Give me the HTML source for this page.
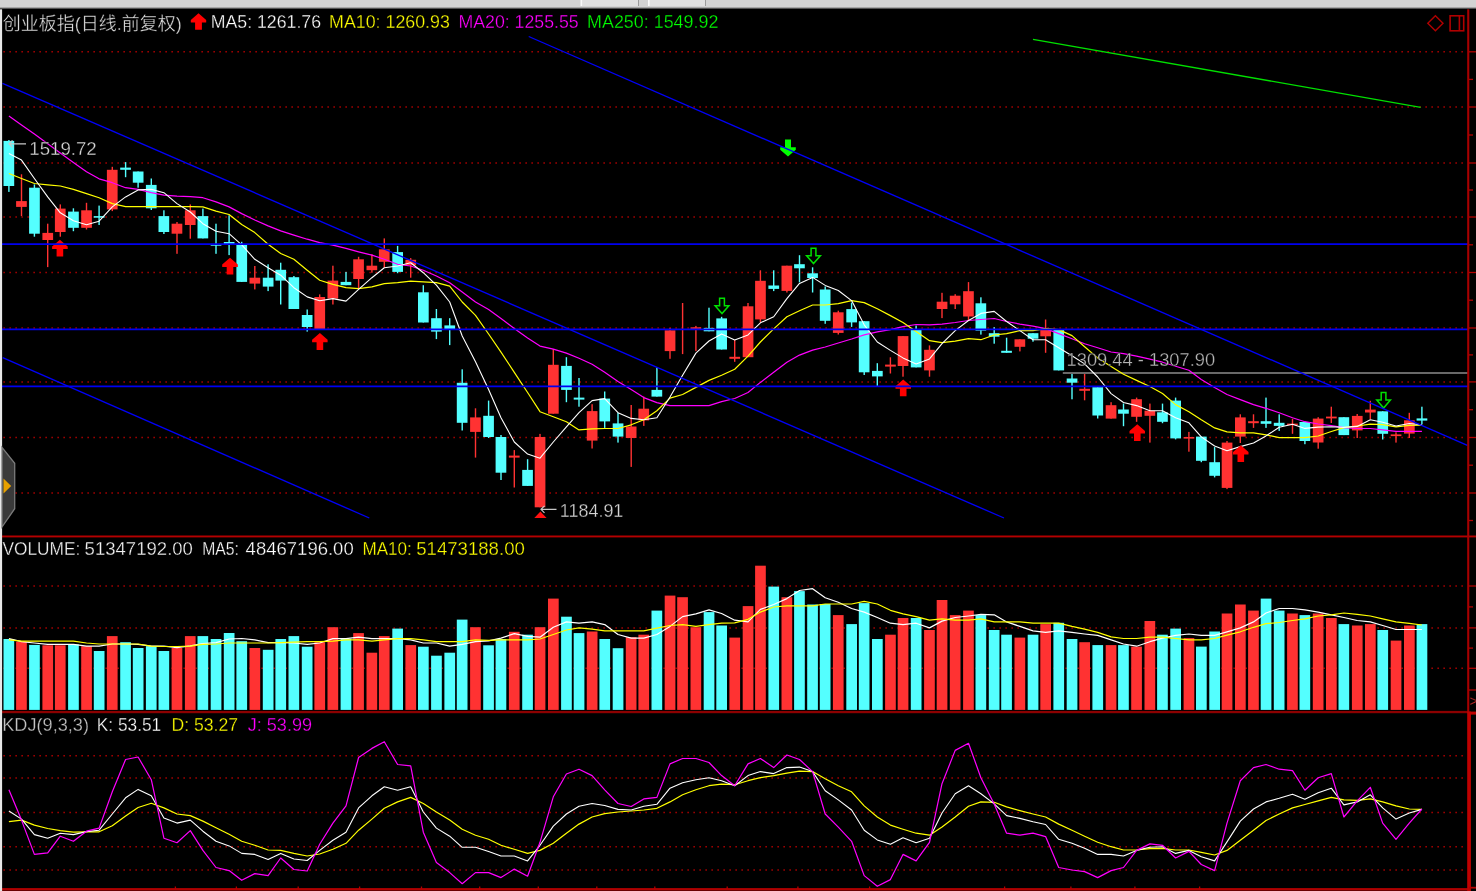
<!DOCTYPE html>
<html><head><meta charset="utf-8"><title>创业板指</title>
<style>html,body{margin:0;padding:0;background:#000;overflow:hidden}svg{display:block}</style></head>
<body>
<svg width="1476" height="891" viewBox="0 0 1476 891">
<rect width="1476" height="891" fill="#000"/>
<g stroke="#ac0000" stroke-width="1.5" stroke-dasharray="1.5 4.5" fill="none">
<path d="M3.4 51.8 H1464"/>
<path d="M3.4 107 H1464"/>
<path d="M3.4 163 H1464"/>
<path d="M3.4 217 H1464"/>
<path d="M3.4 272.5 H1464"/>
<path d="M3.4 328 H1464"/>
<path d="M3.4 381.9 H1464"/>
<path d="M3.4 437.5 H1464"/>
<path d="M3.4 493 H1464"/>
<path d="M3.4 586 H1464"/>
<path d="M3.4 627.9 H1464"/>
<path d="M3.4 668.3 H1464"/>
<path d="M3.4 755.8 H1464"/>
<path d="M3.4 778.1 H1464"/>
<path d="M3.4 812.6 H1464"/>
<path d="M3.4 846.8 H1464"/>
<path d="M3.4 870 H1464"/>
</g>
<g>
<rect x="3.5" y="639" width="10.7" height="70.9" fill="#54ffff"/>
<rect x="16.1" y="641.7" width="10.7" height="68.2" fill="#ff3232"/>
<rect x="29.1" y="644.9" width="10.7" height="65" fill="#54ffff"/>
<rect x="42.4" y="645.3" width="10.7" height="64.6" fill="#ff3232"/>
<rect x="54.9" y="645.3" width="10.7" height="64.6" fill="#ff3232"/>
<rect x="68.1" y="644.4" width="10.7" height="65.5" fill="#54ffff"/>
<rect x="81.2" y="646.2" width="10.7" height="63.7" fill="#ff3232"/>
<rect x="93.8" y="651" width="10.7" height="58.9" fill="#54ffff"/>
<rect x="106.9" y="636.1" width="10.7" height="73.8" fill="#ff3232"/>
<rect x="120.2" y="642.2" width="10.7" height="67.7" fill="#54ffff"/>
<rect x="132.8" y="648" width="10.7" height="61.9" fill="#54ffff"/>
<rect x="145.9" y="646.2" width="10.7" height="63.7" fill="#54ffff"/>
<rect x="158.5" y="651" width="10.7" height="58.9" fill="#54ffff"/>
<rect x="171.6" y="648" width="10.7" height="61.9" fill="#ff3232"/>
<rect x="184.9" y="636.1" width="10.7" height="73.8" fill="#ff3232"/>
<rect x="197.5" y="636.1" width="10.7" height="73.8" fill="#54ffff"/>
<rect x="210.7" y="639" width="10.7" height="70.9" fill="#54ffff"/>
<rect x="223.8" y="633" width="10.7" height="76.9" fill="#54ffff"/>
<rect x="236.4" y="641.2" width="10.7" height="68.7" fill="#54ffff"/>
<rect x="249.5" y="648" width="10.7" height="61.9" fill="#ff3232"/>
<rect x="262.8" y="649.8" width="10.7" height="60.1" fill="#54ffff"/>
<rect x="275.4" y="639" width="10.7" height="70.9" fill="#54ffff"/>
<rect x="288.5" y="636.1" width="10.7" height="73.8" fill="#54ffff"/>
<rect x="301.8" y="646.7" width="10.7" height="63.2" fill="#54ffff"/>
<rect x="314.4" y="642.2" width="10.7" height="67.7" fill="#ff3232"/>
<rect x="327.5" y="627.2" width="10.7" height="82.7" fill="#ff3232"/>
<rect x="340.6" y="639" width="10.7" height="70.9" fill="#54ffff"/>
<rect x="353.2" y="633.1" width="10.7" height="76.8" fill="#ff3232"/>
<rect x="366.5" y="652.7" width="10.7" height="57.2" fill="#ff3232"/>
<rect x="378.9" y="636.1" width="10.7" height="73.8" fill="#ff3232"/>
<rect x="392.3" y="628.6" width="10.7" height="81.3" fill="#54ffff"/>
<rect x="405.4" y="645.1" width="10.7" height="64.8" fill="#ff3232"/>
<rect x="418" y="646.7" width="10.7" height="63.2" fill="#54ffff"/>
<rect x="431.1" y="655.7" width="10.7" height="54.2" fill="#54ffff"/>
<rect x="444.4" y="652.7" width="10.7" height="57.2" fill="#54ffff"/>
<rect x="456.8" y="619.6" width="10.7" height="90.3" fill="#54ffff"/>
<rect x="470.1" y="627.2" width="10.7" height="82.7" fill="#ff3232"/>
<rect x="483.2" y="645.3" width="10.7" height="64.6" fill="#54ffff"/>
<rect x="495.6" y="639" width="10.7" height="70.9" fill="#54ffff"/>
<rect x="508.9" y="631.8" width="10.7" height="78.1" fill="#ff3232"/>
<rect x="522.2" y="634.7" width="10.7" height="75.2" fill="#54ffff"/>
<rect x="534.7" y="627.2" width="10.7" height="82.7" fill="#ff3232"/>
<rect x="548" y="598.6" width="10.7" height="111.3" fill="#ff3232"/>
<rect x="561.1" y="616.7" width="10.7" height="93.2" fill="#54ffff"/>
<rect x="573.7" y="633.1" width="10.7" height="76.8" fill="#54ffff"/>
<rect x="586.8" y="631.5" width="10.7" height="78.4" fill="#ff3232"/>
<rect x="599.4" y="639" width="10.7" height="70.9" fill="#54ffff"/>
<rect x="612.7" y="648.2" width="10.7" height="61.7" fill="#54ffff"/>
<rect x="625.8" y="637.2" width="10.7" height="72.7" fill="#ff3232"/>
<rect x="638.4" y="634.7" width="10.7" height="75.2" fill="#ff3232"/>
<rect x="651.5" y="610.6" width="10.7" height="99.3" fill="#54ffff"/>
<rect x="664.7" y="595.6" width="10.7" height="114.3" fill="#ff3232"/>
<rect x="677.2" y="597.2" width="10.7" height="112.7" fill="#ff3232"/>
<rect x="690.5" y="627.2" width="10.7" height="82.7" fill="#ff3232"/>
<rect x="703.7" y="612.1" width="10.7" height="97.8" fill="#54ffff"/>
<rect x="716.3" y="625.5" width="10.7" height="84.4" fill="#54ffff"/>
<rect x="729.4" y="637.6" width="10.7" height="72.3" fill="#ff3232"/>
<rect x="742.7" y="606.1" width="10.7" height="103.8" fill="#ff3232"/>
<rect x="755.1" y="565.7" width="10.7" height="144.2" fill="#ff3232"/>
<rect x="768.4" y="586.6" width="10.7" height="123.3" fill="#54ffff"/>
<rect x="781.5" y="597.2" width="10.7" height="112.7" fill="#ff3232"/>
<rect x="794.1" y="591.1" width="10.7" height="118.8" fill="#54ffff"/>
<rect x="807.2" y="604.5" width="10.7" height="105.4" fill="#54ffff"/>
<rect x="819.8" y="604" width="10.7" height="105.9" fill="#54ffff"/>
<rect x="832.9" y="615.1" width="10.7" height="94.8" fill="#ff3232"/>
<rect x="846.3" y="624.1" width="10.7" height="85.8" fill="#54ffff"/>
<rect x="858.8" y="603.1" width="10.7" height="106.8" fill="#54ffff"/>
<rect x="872" y="639" width="10.7" height="70.9" fill="#54ffff"/>
<rect x="885.1" y="634.7" width="10.7" height="75.2" fill="#ff3232"/>
<rect x="897.7" y="618" width="10.7" height="91.9" fill="#ff3232"/>
<rect x="910.8" y="618" width="10.7" height="91.9" fill="#54ffff"/>
<rect x="924.1" y="630" width="10.7" height="79.9" fill="#ff3232"/>
<rect x="936.7" y="600" width="10.7" height="109.9" fill="#ff3232"/>
<rect x="949.8" y="615.1" width="10.7" height="94.8" fill="#ff3232"/>
<rect x="963.1" y="610.6" width="10.7" height="99.3" fill="#ff3232"/>
<rect x="975.5" y="615.1" width="10.7" height="94.8" fill="#54ffff"/>
<rect x="988.8" y="630" width="10.7" height="79.9" fill="#54ffff"/>
<rect x="1001.2" y="634.7" width="10.7" height="75.2" fill="#54ffff"/>
<rect x="1014.5" y="637.6" width="10.7" height="72.3" fill="#ff3232"/>
<rect x="1027.7" y="634.7" width="10.7" height="75.2" fill="#54ffff"/>
<rect x="1040.3" y="624.1" width="10.7" height="85.8" fill="#ff3232"/>
<rect x="1053.4" y="622.8" width="10.7" height="87.1" fill="#54ffff"/>
<rect x="1066.7" y="639" width="10.7" height="70.9" fill="#54ffff"/>
<rect x="1079.3" y="642.2" width="10.7" height="67.7" fill="#ff3232"/>
<rect x="1092.4" y="645.1" width="10.7" height="64.8" fill="#54ffff"/>
<rect x="1105.7" y="645.1" width="10.7" height="64.8" fill="#ff3232"/>
<rect x="1118.1" y="645.1" width="10.7" height="64.8" fill="#54ffff"/>
<rect x="1131.2" y="646.6" width="10.7" height="63.3" fill="#ff3232"/>
<rect x="1144.5" y="621" width="10.7" height="88.9" fill="#ff3232"/>
<rect x="1157.1" y="634.7" width="10.7" height="75.2" fill="#54ffff"/>
<rect x="1170.3" y="628.6" width="10.7" height="81.3" fill="#54ffff"/>
<rect x="1183.6" y="638.1" width="10.7" height="71.8" fill="#ff3232"/>
<rect x="1196" y="646.6" width="10.7" height="63.3" fill="#54ffff"/>
<rect x="1209.3" y="631.5" width="10.7" height="78.4" fill="#54ffff"/>
<rect x="1221.7" y="613.5" width="10.7" height="96.4" fill="#ff3232"/>
<rect x="1235" y="604.5" width="10.7" height="105.4" fill="#ff3232"/>
<rect x="1248.1" y="610.6" width="10.7" height="99.3" fill="#ff3232"/>
<rect x="1260.7" y="598.6" width="10.7" height="111.3" fill="#54ffff"/>
<rect x="1273.8" y="610.6" width="10.7" height="99.3" fill="#54ffff"/>
<rect x="1287.1" y="613.5" width="10.7" height="96.4" fill="#ff3232"/>
<rect x="1299.5" y="615.1" width="10.7" height="94.8" fill="#54ffff"/>
<rect x="1312.8" y="613.5" width="10.7" height="96.4" fill="#ff3232"/>
<rect x="1326" y="618" width="10.7" height="91.9" fill="#ff3232"/>
<rect x="1338.5" y="624.1" width="10.7" height="85.8" fill="#54ffff"/>
<rect x="1351.9" y="625.5" width="10.7" height="84.4" fill="#ff3232"/>
<rect x="1365" y="624.1" width="10.7" height="85.8" fill="#ff3232"/>
<rect x="1377.4" y="630" width="10.7" height="79.9" fill="#54ffff"/>
<rect x="1390.7" y="640.6" width="10.7" height="69.3" fill="#ff3232"/>
<rect x="1404" y="625.5" width="10.7" height="84.4" fill="#ff3232"/>
<rect x="1416.6" y="624.1" width="10.7" height="85.8" fill="#54ffff"/>
</g>
<polyline points="8.9,638.6 21.5,641.7 34.4,643 47.7,644.4 60.3,644.4 73.4,644.4 86.5,646.2 99.1,646.2 112.3,644 125.6,644 138.1,644.4 151.3,646.2 163.9,646.2 177,647.6 190.3,645.8 202.9,643.5 216,642.6 229.1,639 241.7,638.5 254.8,639.9 268.1,642.6 280.7,642.6 293.9,643 307.2,644.4 319.7,643 332.9,638.6 346,638.6 358.6,637.2 371.9,638.6 384.3,638.6 397.6,638.6 410.7,639.9 423.3,643 436.4,643 449.7,646.2 462.2,644.4 475.5,641.7 488.6,640.8 501,638.1 514.3,633.6 527.6,636.3 540,637.2 553.3,627.3 566.4,621.9 579,623.2 592.1,621.9 604.7,624.6 618,634.5 631.2,638.1 643.8,638.1 656.9,634.5 670,626.4 682.6,616.6 695.9,613.9 709,609.9 721.6,613.5 734.7,620.2 748,621.9 760.4,609.4 773.7,604.5 786.9,598.6 799.5,590.5 812.6,588.7 825.2,597.7 838.3,602.2 851.6,608.5 864.2,612.1 877.3,617.5 890.4,623.2 903,624.6 916.1,623.2 929.5,627.9 942,621.1 955.2,617.5 968.5,616 980.9,614.4 994.2,614.8 1006.6,621.9 1019.9,626.4 1033,630.9 1045.6,632.4 1058.7,630.9 1072,632.4 1084.6,634 1097.7,635.4 1111.1,639.9 1123.5,644 1136.6,646.2 1149.9,641.7 1162.5,638.1 1175.6,635.4 1188.9,634 1201.3,635.4 1214.6,635.4 1227,631.8 1240.3,627.9 1253.5,621.9 1266,613 1279.2,608.5 1292.5,608.5 1304.9,609.9 1318.2,612.1 1331.3,614.8 1343.9,617.5 1357.2,620.5 1370.3,621.9 1382.7,625.5 1396,629.5 1409.3,629.5 1421.9,629.5" fill="none" stroke="#fff" stroke-width="1.2" stroke-linejoin="round"/>
<polyline points="8.9,639.9 21.5,641.2 34.4,641.2 47.7,641.2 60.3,641.2 73.4,641.2 86.5,643 99.1,644 112.3,644 125.6,644 138.1,644 151.3,646.2 163.9,646.5 177,646.5 190.3,646.2 202.9,644.4 216,644 229.1,643 241.7,643 254.8,643 268.1,643 280.7,642.6 293.9,642.2 307.2,641.7 319.7,641.7 332.9,641.2 346,639.9 358.6,639.9 371.9,641.2 384.3,639.9 397.6,638.6 410.7,638.6 423.3,639.9 436.4,641.7 449.7,641.7 462.2,641.7 475.5,639.9 488.6,640.4 501,639.9 514.3,639.9 527.6,639.9 540,639 553.3,634.5 566.4,630 579,627.9 592.1,629.1 604.7,630.9 618,630.9 631.2,630.9 643.8,630.9 656.9,628.2 670,625.5 682.6,624.6 695.9,626.4 709,624.6 721.6,623.2 734.7,622.8 748,619.3 760.4,612.1 773.7,607 786.9,605.8 799.5,605.8 812.6,605.8 825.2,604 838.3,604 851.6,604 864.2,601.3 877.3,604 890.4,610.3 903,613.9 916.1,616.6 929.5,620.2 942,618.9 955.2,620.2 968.5,620.2 980.9,618.9 994.2,621.9 1006.6,621.9 1019.9,621.9 1033,623.2 1045.6,623.2 1058.7,623.2 1072,626.4 1084.6,629.1 1097.7,632.4 1111.1,636.9 1123.5,638.5 1136.6,638.5 1149.9,637.2 1162.5,637.2 1175.6,638.5 1188.9,639.9 1201.3,639.9 1214.6,638.5 1227,635.1 1240.3,631.8 1253.5,627.3 1266,623.7 1279.2,622.5 1292.5,620.5 1304.9,618.9 1318.2,616 1331.3,614.8 1343.9,613 1357.2,614.4 1370.3,616 1382.7,618.9 1396,621.9 1409.3,623.4 1421.9,625" fill="none" stroke="#ff0" stroke-width="1.2" stroke-linejoin="round"/>
<path d="M1033 39.3 L1420.7 107.3" stroke="#00e000" stroke-width="1.3" fill="none"/>
<path d="M1062.8 373 H1468" stroke="#8c8c8c" stroke-width="1.4"/>
<g>
<rect x="8.2" y="140" width="1.4" height="51.9" fill="#54ffff"/>
<rect x="3.5" y="140.9" width="10.7" height="45.1" fill="#54ffff"/>
<rect x="20.8" y="174.3" width="1.4" height="41.8" fill="#ff3232"/>
<rect x="16.1" y="201.1" width="10.7" height="5.8" fill="#ff3232"/>
<rect x="33.7" y="184.4" width="1.4" height="52.3" fill="#54ffff"/>
<rect x="29.1" y="187.7" width="10.7" height="46" fill="#54ffff"/>
<rect x="47" y="223.7" width="1.4" height="43.4" fill="#ff3232"/>
<rect x="42.4" y="232.9" width="10.7" height="7.1" fill="#ff3232"/>
<rect x="59.6" y="204.4" width="1.4" height="32.3" fill="#ff3232"/>
<rect x="54.9" y="208.6" width="10.7" height="23.4" fill="#ff3232"/>
<rect x="72.7" y="208.3" width="1.4" height="22.9" fill="#54ffff"/>
<rect x="68.1" y="211.6" width="10.7" height="16.2" fill="#54ffff"/>
<rect x="85.8" y="202.8" width="1.4" height="26.7" fill="#ff3232"/>
<rect x="81.2" y="210.3" width="10.7" height="17.5" fill="#ff3232"/>
<rect x="98.4" y="205.6" width="1.4" height="19.4" fill="#54ffff"/>
<rect x="93.8" y="216.1" width="10.7" height="1.6" fill="#54ffff"/>
<rect x="111.6" y="166.8" width="1.4" height="44.3" fill="#ff3232"/>
<rect x="106.9" y="169.8" width="10.7" height="39.6" fill="#ff3232"/>
<rect x="124.9" y="162.1" width="1.4" height="15.1" fill="#54ffff"/>
<rect x="120.2" y="167.6" width="10.7" height="2.2" fill="#54ffff"/>
<rect x="137.4" y="171.5" width="1.4" height="16.2" fill="#54ffff"/>
<rect x="132.8" y="171.5" width="10.7" height="11.2" fill="#54ffff"/>
<rect x="150.6" y="178.5" width="1.4" height="31.5" fill="#54ffff"/>
<rect x="145.9" y="184.9" width="10.7" height="23.4" fill="#54ffff"/>
<rect x="163.2" y="210.3" width="1.4" height="23.7" fill="#54ffff"/>
<rect x="158.5" y="216.1" width="10.7" height="15.9" fill="#54ffff"/>
<rect x="176.3" y="222" width="1.4" height="31.8" fill="#ff3232"/>
<rect x="171.6" y="223.7" width="10.7" height="10" fill="#ff3232"/>
<rect x="189.6" y="204.4" width="1.4" height="34.3" fill="#ff3232"/>
<rect x="184.9" y="210.3" width="10.7" height="14.7" fill="#ff3232"/>
<rect x="202.2" y="208.6" width="1.4" height="29.8" fill="#54ffff"/>
<rect x="197.5" y="216.1" width="10.7" height="22.3" fill="#54ffff"/>
<rect x="215.3" y="223.7" width="1.4" height="30.1" fill="#54ffff"/>
<rect x="210.7" y="244.1" width="10.7" height="1.6" fill="#54ffff"/>
<rect x="228.4" y="215.3" width="1.4" height="39.8" fill="#54ffff"/>
<rect x="223.8" y="242" width="10.7" height="2" fill="#54ffff"/>
<rect x="241" y="241.8" width="1.4" height="40.1" fill="#54ffff"/>
<rect x="236.4" y="244.3" width="10.7" height="37.6" fill="#54ffff"/>
<rect x="254.1" y="266" width="1.4" height="23.4" fill="#ff3232"/>
<rect x="249.5" y="277.7" width="10.7" height="5.9" fill="#ff3232"/>
<rect x="267.4" y="264.3" width="1.4" height="26.8" fill="#54ffff"/>
<rect x="262.8" y="277.7" width="10.7" height="8.9" fill="#54ffff"/>
<rect x="280" y="262.7" width="1.4" height="41.8" fill="#54ffff"/>
<rect x="275.4" y="269.8" width="10.7" height="10.8" fill="#54ffff"/>
<rect x="293.2" y="276" width="1.4" height="33" fill="#54ffff"/>
<rect x="288.5" y="277.2" width="10.7" height="31.8" fill="#54ffff"/>
<rect x="306.5" y="309.5" width="1.4" height="22.1" fill="#54ffff"/>
<rect x="301.8" y="315" width="10.7" height="12" fill="#54ffff"/>
<rect x="319" y="294.4" width="1.4" height="34.6" fill="#ff3232"/>
<rect x="314.4" y="297" width="10.7" height="32" fill="#ff3232"/>
<rect x="332.2" y="265.7" width="1.4" height="38.8" fill="#ff3232"/>
<rect x="327.5" y="280.6" width="10.7" height="18" fill="#ff3232"/>
<rect x="345.3" y="271.9" width="1.4" height="13.3" fill="#54ffff"/>
<rect x="340.6" y="281.9" width="10.7" height="3.3" fill="#54ffff"/>
<rect x="357.9" y="256.8" width="1.4" height="31.8" fill="#ff3232"/>
<rect x="353.2" y="259.3" width="10.7" height="19.7" fill="#ff3232"/>
<rect x="371.2" y="254.3" width="1.4" height="18.4" fill="#ff3232"/>
<rect x="366.5" y="265.7" width="10.7" height="4.5" fill="#ff3232"/>
<rect x="383.6" y="238.4" width="1.4" height="29.3" fill="#ff3232"/>
<rect x="378.9" y="249.3" width="10.7" height="12.5" fill="#ff3232"/>
<rect x="396.9" y="245.9" width="1.4" height="27.3" fill="#54ffff"/>
<rect x="392.3" y="252.1" width="10.7" height="19.8" fill="#54ffff"/>
<rect x="410" y="258.1" width="1.4" height="19.6" fill="#ff3232"/>
<rect x="405.4" y="259.8" width="10.7" height="5.4" fill="#ff3232"/>
<rect x="422.6" y="285.2" width="1.4" height="37.3" fill="#54ffff"/>
<rect x="418" y="292.3" width="10.7" height="30.2" fill="#54ffff"/>
<rect x="435.7" y="309" width="1.4" height="30.1" fill="#54ffff"/>
<rect x="431.1" y="318.2" width="10.7" height="13.4" fill="#54ffff"/>
<rect x="449" y="318.2" width="1.4" height="26.9" fill="#54ffff"/>
<rect x="444.4" y="325.4" width="10.7" height="4.1" fill="#54ffff"/>
<rect x="461.5" y="369.3" width="1.4" height="61.2" fill="#54ffff"/>
<rect x="456.8" y="382.8" width="10.7" height="40" fill="#54ffff"/>
<rect x="474.8" y="408.3" width="1.4" height="49.3" fill="#ff3232"/>
<rect x="470.1" y="417.4" width="10.7" height="14.5" fill="#ff3232"/>
<rect x="487.9" y="400.6" width="1.4" height="37.4" fill="#54ffff"/>
<rect x="483.2" y="415.8" width="10.7" height="21.2" fill="#54ffff"/>
<rect x="500.3" y="435" width="1.4" height="45" fill="#54ffff"/>
<rect x="495.6" y="437" width="10.7" height="35.7" fill="#54ffff"/>
<rect x="513.6" y="450.1" width="1.4" height="37.4" fill="#ff3232"/>
<rect x="508.9" y="455.6" width="10.7" height="2" fill="#ff3232"/>
<rect x="526.9" y="459.2" width="1.4" height="26.7" fill="#54ffff"/>
<rect x="522.2" y="469.9" width="10.7" height="16" fill="#54ffff"/>
<rect x="539.3" y="433.9" width="1.4" height="73.4" fill="#ff3232"/>
<rect x="534.7" y="437" width="10.7" height="70.3" fill="#ff3232"/>
<rect x="552.6" y="349.1" width="1.4" height="64.6" fill="#ff3232"/>
<rect x="548" y="364.8" width="10.7" height="48.9" fill="#ff3232"/>
<rect x="565.7" y="357.2" width="1.4" height="45" fill="#54ffff"/>
<rect x="561.1" y="365.9" width="10.7" height="24" fill="#54ffff"/>
<rect x="578.3" y="378" width="1.4" height="28.7" fill="#54ffff"/>
<rect x="573.7" y="397.6" width="10.7" height="2" fill="#54ffff"/>
<rect x="591.4" y="404.2" width="1.4" height="44.3" fill="#ff3232"/>
<rect x="586.8" y="411.1" width="10.7" height="29.5" fill="#ff3232"/>
<rect x="604" y="391.5" width="1.4" height="36.4" fill="#54ffff"/>
<rect x="599.4" y="398.6" width="10.7" height="22.8" fill="#54ffff"/>
<rect x="617.3" y="412.7" width="1.4" height="29.9" fill="#54ffff"/>
<rect x="612.7" y="423.4" width="10.7" height="13.2" fill="#54ffff"/>
<rect x="630.5" y="405" width="1.4" height="61.9" fill="#ff3232"/>
<rect x="625.8" y="426.5" width="10.7" height="11.5" fill="#ff3232"/>
<rect x="643.1" y="396.6" width="1.4" height="29.3" fill="#ff3232"/>
<rect x="638.4" y="408.7" width="10.7" height="11.7" fill="#ff3232"/>
<rect x="656.2" y="367.5" width="1.4" height="29.1" fill="#54ffff"/>
<rect x="651.5" y="389.9" width="10.7" height="6.7" fill="#54ffff"/>
<rect x="669.3" y="327.9" width="1.4" height="30.9" fill="#ff3232"/>
<rect x="664.7" y="330.3" width="10.7" height="20.8" fill="#ff3232"/>
<rect x="681.9" y="303" width="1.4" height="51.1" fill="#ff3232"/>
<rect x="695.2" y="325.9" width="1.4" height="25.2" fill="#ff3232"/>
<rect x="690.5" y="327.3" width="10.7" height="1.6" fill="#ff3232"/>
<rect x="708.3" y="307.7" width="1.4" height="23.6" fill="#54ffff"/>
<rect x="703.7" y="327.9" width="10.7" height="3.4" fill="#54ffff"/>
<rect x="720.9" y="316.8" width="1.4" height="32.7" fill="#54ffff"/>
<rect x="716.3" y="318.4" width="10.7" height="31.1" fill="#54ffff"/>
<rect x="734" y="340" width="1.4" height="21.8" fill="#ff3232"/>
<rect x="729.4" y="356.8" width="10.7" height="2" fill="#ff3232"/>
<rect x="747.3" y="303" width="1.4" height="54.2" fill="#ff3232"/>
<rect x="742.7" y="306.3" width="10.7" height="50.9" fill="#ff3232"/>
<rect x="759.7" y="270.3" width="1.4" height="52.1" fill="#ff3232"/>
<rect x="755.1" y="280.8" width="10.7" height="38.6" fill="#ff3232"/>
<rect x="773" y="270.3" width="1.4" height="20.8" fill="#54ffff"/>
<rect x="768.4" y="285.5" width="10.7" height="3.4" fill="#54ffff"/>
<rect x="786.2" y="265.7" width="1.4" height="26.8" fill="#ff3232"/>
<rect x="781.5" y="265.7" width="10.7" height="25.2" fill="#ff3232"/>
<rect x="798.8" y="255.2" width="1.4" height="27.2" fill="#54ffff"/>
<rect x="794.1" y="264.2" width="10.7" height="4.1" fill="#54ffff"/>
<rect x="811.9" y="267.3" width="1.4" height="25.2" fill="#54ffff"/>
<rect x="807.2" y="273.3" width="10.7" height="4.7" fill="#54ffff"/>
<rect x="824.5" y="286.5" width="1.4" height="37.3" fill="#54ffff"/>
<rect x="819.8" y="289.5" width="10.7" height="31.3" fill="#54ffff"/>
<rect x="837.6" y="310.7" width="1.4" height="23.8" fill="#ff3232"/>
<rect x="832.9" y="312.3" width="10.7" height="20.6" fill="#ff3232"/>
<rect x="850.9" y="302.6" width="1.4" height="24.3" fill="#54ffff"/>
<rect x="846.3" y="309.1" width="10.7" height="13.3" fill="#54ffff"/>
<rect x="863.5" y="321.2" width="1.4" height="53.8" fill="#54ffff"/>
<rect x="858.8" y="321.2" width="10.7" height="51.1" fill="#54ffff"/>
<rect x="876.6" y="363.2" width="1.4" height="22.7" fill="#54ffff"/>
<rect x="872" y="370.9" width="10.7" height="5.5" fill="#54ffff"/>
<rect x="889.7" y="357.3" width="1.4" height="16.2" fill="#ff3232"/>
<rect x="885.1" y="364.6" width="10.7" height="2" fill="#ff3232"/>
<rect x="902.3" y="336.1" width="1.4" height="40.6" fill="#ff3232"/>
<rect x="897.7" y="336.1" width="10.7" height="29.9" fill="#ff3232"/>
<rect x="915.4" y="325.6" width="1.4" height="41.8" fill="#54ffff"/>
<rect x="910.8" y="330" width="10.7" height="37.4" fill="#54ffff"/>
<rect x="928.8" y="345.4" width="1.4" height="31.3" fill="#ff3232"/>
<rect x="924.1" y="349.8" width="10.7" height="20.6" fill="#ff3232"/>
<rect x="941.3" y="292.8" width="1.4" height="25.3" fill="#ff3232"/>
<rect x="936.7" y="301.7" width="10.7" height="7.3" fill="#ff3232"/>
<rect x="954.5" y="294.2" width="1.4" height="14.8" fill="#ff3232"/>
<rect x="949.8" y="295.7" width="10.7" height="8.6" fill="#ff3232"/>
<rect x="967.8" y="282.1" width="1.4" height="38.4" fill="#ff3232"/>
<rect x="963.1" y="291.2" width="10.7" height="25.3" fill="#ff3232"/>
<rect x="980.2" y="297.3" width="1.4" height="37.3" fill="#54ffff"/>
<rect x="975.5" y="303.3" width="10.7" height="27.3" fill="#54ffff"/>
<rect x="993.5" y="327.2" width="1.4" height="16.5" fill="#54ffff"/>
<rect x="988.8" y="333.2" width="10.7" height="3.5" fill="#54ffff"/>
<rect x="1005.9" y="337.7" width="1.4" height="15.1" fill="#54ffff"/>
<rect x="1001.2" y="350.8" width="10.7" height="2" fill="#54ffff"/>
<rect x="1019.2" y="339.3" width="1.4" height="12.1" fill="#ff3232"/>
<rect x="1014.5" y="339.3" width="10.7" height="7.5" fill="#ff3232"/>
<rect x="1032.3" y="333.2" width="1.4" height="8.5" fill="#54ffff"/>
<rect x="1027.7" y="333.2" width="10.7" height="5.5" fill="#54ffff"/>
<rect x="1044.9" y="319.5" width="1.4" height="33.3" fill="#ff3232"/>
<rect x="1040.3" y="329.6" width="10.7" height="6.7" fill="#ff3232"/>
<rect x="1058" y="329.6" width="1.4" height="40.8" fill="#54ffff"/>
<rect x="1053.4" y="329.6" width="10.7" height="40.8" fill="#54ffff"/>
<rect x="1071.3" y="374" width="1.4" height="25.3" fill="#54ffff"/>
<rect x="1066.7" y="378.5" width="10.7" height="4.2" fill="#54ffff"/>
<rect x="1083.9" y="374" width="1.4" height="26.3" fill="#ff3232"/>
<rect x="1079.3" y="388.8" width="10.7" height="2" fill="#ff3232"/>
<rect x="1097" y="387.2" width="1.4" height="31.3" fill="#54ffff"/>
<rect x="1092.4" y="387.2" width="10.7" height="28.3" fill="#54ffff"/>
<rect x="1110.4" y="402.2" width="1.4" height="16.4" fill="#ff3232"/>
<rect x="1105.7" y="405.2" width="10.7" height="13.4" fill="#ff3232"/>
<rect x="1122.8" y="403.5" width="1.4" height="22.7" fill="#54ffff"/>
<rect x="1118.1" y="409.5" width="10.7" height="4.2" fill="#54ffff"/>
<rect x="1135.9" y="397.6" width="1.4" height="24.2" fill="#ff3232"/>
<rect x="1131.2" y="399.2" width="10.7" height="17.6" fill="#ff3232"/>
<rect x="1149.2" y="403.6" width="1.4" height="39" fill="#ff3232"/>
<rect x="1144.5" y="410.7" width="10.7" height="5.1" fill="#ff3232"/>
<rect x="1161.8" y="403.6" width="1.4" height="19.6" fill="#54ffff"/>
<rect x="1157.1" y="412.3" width="10.7" height="9.5" fill="#54ffff"/>
<rect x="1174.9" y="397.6" width="1.4" height="41.8" fill="#54ffff"/>
<rect x="1170.3" y="400.6" width="10.7" height="37.8" fill="#54ffff"/>
<rect x="1188.2" y="431.9" width="1.4" height="19.8" fill="#ff3232"/>
<rect x="1183.6" y="437" width="10.7" height="1.6" fill="#ff3232"/>
<rect x="1200.6" y="436.6" width="1.4" height="25.6" fill="#54ffff"/>
<rect x="1196" y="436.6" width="10.7" height="24.2" fill="#54ffff"/>
<rect x="1213.9" y="447.1" width="1.4" height="30.3" fill="#54ffff"/>
<rect x="1209.3" y="462.2" width="10.7" height="13.6" fill="#54ffff"/>
<rect x="1226.3" y="441" width="1.4" height="48.1" fill="#ff3232"/>
<rect x="1221.7" y="442.6" width="10.7" height="45.3" fill="#ff3232"/>
<rect x="1239.6" y="414.3" width="1.4" height="28.7" fill="#ff3232"/>
<rect x="1235" y="417.4" width="10.7" height="19.2" fill="#ff3232"/>
<rect x="1252.8" y="414.3" width="1.4" height="13.6" fill="#ff3232"/>
<rect x="1248.1" y="421.2" width="10.7" height="2" fill="#ff3232"/>
<rect x="1265.3" y="397.6" width="1.4" height="30.3" fill="#54ffff"/>
<rect x="1260.7" y="421.2" width="10.7" height="2.6" fill="#54ffff"/>
<rect x="1278.5" y="414.3" width="1.4" height="16.6" fill="#54ffff"/>
<rect x="1273.8" y="422.8" width="10.7" height="3.1" fill="#54ffff"/>
<rect x="1291.8" y="418.8" width="1.4" height="15" fill="#ff3232"/>
<rect x="1287.1" y="423.6" width="10.7" height="1.6" fill="#ff3232"/>
<rect x="1304.2" y="422" width="1.4" height="22.2" fill="#54ffff"/>
<rect x="1299.5" y="422" width="10.7" height="19" fill="#54ffff"/>
<rect x="1317.5" y="417.2" width="1.4" height="31.5" fill="#ff3232"/>
<rect x="1312.8" y="418.6" width="10.7" height="23.9" fill="#ff3232"/>
<rect x="1330.6" y="406.7" width="1.4" height="16.3" fill="#ff3232"/>
<rect x="1326" y="416.6" width="10.7" height="1.8" fill="#ff3232"/>
<rect x="1343.2" y="417.2" width="1.4" height="17.9" fill="#54ffff"/>
<rect x="1338.5" y="417.2" width="10.7" height="17.9" fill="#54ffff"/>
<rect x="1356.5" y="414" width="1.4" height="24" fill="#ff3232"/>
<rect x="1351.9" y="415.9" width="10.7" height="14.5" fill="#ff3232"/>
<rect x="1369.6" y="400.8" width="1.4" height="18.3" fill="#ff3232"/>
<rect x="1365" y="409.6" width="10.7" height="2.9" fill="#ff3232"/>
<rect x="1382" y="411.3" width="1.4" height="28.2" fill="#54ffff"/>
<rect x="1377.4" y="411.3" width="10.7" height="22.5" fill="#54ffff"/>
<rect x="1395.3" y="432.3" width="1.4" height="10.3" fill="#ff3232"/>
<rect x="1390.7" y="434.4" width="10.7" height="1.7" fill="#ff3232"/>
<rect x="1408.6" y="412.8" width="1.4" height="25.2" fill="#ff3232"/>
<rect x="1404" y="420.3" width="10.7" height="13.3" fill="#ff3232"/>
<rect x="1421.2" y="406.7" width="1.4" height="17.7" fill="#54ffff"/>
<rect x="1416.6" y="418.4" width="10.7" height="2.2" fill="#54ffff"/>
</g>
<polyline points="8.9,116 21.5,125 34.4,133.9 47.7,143.7 60.3,153.1 73.4,162.5 86.5,171.7 99.1,178.8 112.3,182.7 125.6,187.7 138.1,189.4 151.3,192.7 163.9,195.2 177,196.1 190.3,196.6 202.9,197.7 216,201.9 229.1,206.9 241.7,213.6 254.8,220 268.1,225.9 280.7,230.9 293.9,235.1 307.2,239.2 319.7,242.6 332.9,245.1 346,248.4 358.6,251.8 371.9,255.1 384.3,259.3 397.6,264.3 410.7,266 423.3,270.2 436.4,276 449.7,282.7 462.2,291.9 475.5,302 488.6,309.5 501,318.5 514.3,328.5 527.6,338 540,346.1 553.3,349.1 566.4,353.1 579,358.2 592.1,364.2 604.7,372.3 618,381.4 631.2,389.5 643.8,397.6 656.9,402.6 670,405.6 682.6,405.6 695.9,405.6 709,405.6 721.6,401.6 734.7,398.5 748,392.5 760.4,382.4 773.7,372.3 786.9,362.2 799.5,355.1 812.6,350.1 825.2,347 838.3,343 851.6,339 864.2,334.9 877.3,331.9 890.4,329.7 903,326.6 916.1,324.5 929.5,324.9 942,324.1 955.2,322.5 968.5,320.5 980.9,319.5 994.2,318.5 1006.6,321.5 1019.9,324.1 1033,326.1 1045.6,328.6 1058.7,333.6 1072,338.7 1084.6,343.7 1097.7,347.8 1111.1,352 1123.5,353.7 1136.6,356.2 1149.9,359.2 1162.5,362.2 1175.6,366.3 1188.9,370.3 1201.3,379.4 1214.6,387.5 1227,394.5 1240.3,399.6 1253.5,404.6 1266,408.3 1279.2,412.7 1292.5,417.8 1304.9,421.7 1318.2,424 1331.3,425.7 1343.9,427.6 1357.2,428.5 1370.3,428.5 1382.7,429.8 1396,431.4 1409.3,431.4 1421.9,431.4" fill="none" stroke="#ff00ff" stroke-width="1.2" stroke-linejoin="round"/>
<polyline points="8.9,173.5 21.5,178.5 34.4,183.5 47.7,184.9 60.3,186 73.4,189.4 86.5,193.6 99.1,197.7 112.3,203.6 125.6,206.6 138.1,206.6 151.3,206.6 163.9,206.6 177,206.6 190.3,206.6 202.9,206.9 216,211.1 229.1,214.5 241.7,224.5 254.8,232.6 268.1,244.3 280.7,253.5 293.9,259.3 307.2,270.2 319.7,280.2 332.9,284.4 346,287.7 358.6,288.6 371.9,286.9 384.3,283.6 397.6,282.7 410.7,281.1 423.3,281.9 436.4,282.7 449.7,286.1 462.2,302 475.5,315.3 488.6,334 501,352.1 514.3,372.3 527.6,392.5 540,411.7 553.3,416.7 566.4,421.8 579,429.9 592.1,428.9 604.7,428.5 618,428.5 631.2,424.8 643.8,419.8 656.9,410.7 670,398.1 682.6,394.5 695.9,387.4 709,380.4 721.6,375.3 734.7,369.3 748,356.1 760.4,342 773.7,328.9 786.9,316.7 799.5,310.7 812.6,305 825.2,305 838.3,303.6 851.6,300.6 864.2,302.6 877.3,308.7 890.4,315.6 903,322.5 916.1,331.6 929.5,340.7 942,342.7 955.2,341.1 968.5,338.7 980.9,339.7 994.2,335 1006.6,333.6 1019.9,330.6 1033,330.6 1045.6,328.6 1058.7,329.6 1072,335.6 1084.6,346.7 1097.7,357.9 1111.1,366.6 1123.5,374.2 1136.6,380.4 1149.9,386.5 1162.5,393.5 1175.6,404.6 1188.9,411.7 1201.3,419.8 1214.6,427.9 1227,431.9 1240.3,432.9 1253.5,432.9 1266,434.9 1279.2,437.6 1292.5,437.6 1304.9,437.6 1318.2,436 1331.3,431.5 1343.9,427.6 1357.2,426 1370.3,424.1 1382.7,424.7 1396,426.9 1409.3,425.4 1421.9,425.1" fill="none" stroke="#ffff00" stroke-width="1.2" stroke-linejoin="round"/>
<polyline points="8.9,153.4 21.5,160.1 34.4,178.5 47.7,196.9 60.3,212.8 73.4,220.7 86.5,224.8 99.1,221.2 112.3,206.9 125.6,196.9 138.1,189.9 151.3,189.4 163.9,192.7 177,203.6 190.3,212 202.9,223.7 216,231.2 229.1,233.7 241.7,244.8 254.8,259.3 268.1,267.7 280.7,275.2 293.9,287.7 307.2,296.9 319.7,300.8 332.9,298.6 346,301.1 358.6,289.4 371.9,277.7 384.3,267.7 397.6,266 410.7,262.7 423.3,272.7 436.4,285.2 449.7,302 462.2,336 475.5,361.8 488.6,389.5 501,417.8 514.3,442 527.6,454.1 540,458.2 553.3,442 566.4,426.8 579,412.7 592.1,400.6 604.7,398.6 618,412.7 631.2,418.4 643.8,419.8 656.9,417.7 670,397 682.6,375.3 695.9,353.1 709,341 721.6,333.9 734.7,340 748,334.9 760.4,322.8 773.7,316.7 786.9,298.6 799.5,283.4 812.6,277.4 825.2,285.4 838.3,290.5 851.6,300.6 864.2,324.8 877.3,342 890.4,350.4 903,357.9 916.1,363.9 929.5,358.9 942,343.7 955.2,330.6 968.5,320.5 980.9,313.4 994.2,311.4 1006.6,321.5 1019.9,330.6 1033,339.7 1045.6,339.7 1058.7,347.8 1072,355.8 1084.6,363.9 1097.7,377 1111.1,393.6 1123.5,402.5 1136.6,405.6 1149.9,410.7 1162.5,410.7 1175.6,417.8 1188.9,422.8 1201.3,436.9 1214.6,446 1227,450.7 1240.3,446.6 1253.5,443 1266,435.9 1279.2,427.3 1292.5,424.3 1304.9,428.4 1318.2,427.1 1331.3,426.7 1343.9,427.4 1357.2,426.4 1370.3,419.7 1382.7,422.2 1396,426 1409.3,423.5 1421.9,424.7" fill="none" stroke="#ffffff" stroke-width="1.1" stroke-linejoin="round"/>
<polyline points="8.9,821.7 21.5,820.1 34.4,825.1 47.7,828.5 60.3,830.6 73.4,832.2 86.5,831.8 99.1,831.8 112.3,825.7 125.6,816 138.1,807.5 151.3,803.3 163.9,807.9 177,814 190.3,815.6 202.9,821.1 216,827.7 229.1,834.2 241.7,841.3 254.8,845.3 268.1,850 280.7,850.4 293.9,853.4 307.2,856 319.7,854 332.9,849.3 346,843.3 358.6,830.2 371.9,819.1 384.3,808.3 397.6,801.9 410.7,797.4 423.3,803.5 436.4,812 449.7,820.1 462.2,829.2 475.5,835.2 488.6,839.3 501,845.3 514.3,849.3 527.6,853.4 540,850.4 553.3,843.3 566.4,833.2 579,824.1 592.1,817 604.7,813.6 618,812 631.2,811 643.8,810 656.9,808.3 670,801.9 682.6,794.8 695.9,789.8 709,785.7 721.6,784.1 734.7,784.7 748,780.7 760.4,777.7 773.7,775.6 786.9,773.2 799.5,771.2 812.6,771.6 825.2,778.7 838.3,785.7 851.6,791.8 864.2,805.9 877.3,817 890.4,825.1 903,829.2 916.1,833.2 929.5,835.2 942,827.1 955.2,817 968.5,806.3 980.9,801.9 994.2,802.3 1006.6,806.9 1019.9,810.6 1033,814 1045.6,817 1058.7,824.1 1072,830.2 1084.6,836.2 1097.7,842.3 1111.1,846.7 1123.5,850 1136.6,850 1149.9,848.7 1162.5,848.3 1175.6,850 1188.9,850 1201.3,852.4 1214.6,855 1227,850.4 1240.3,840.3 1253.5,830.2 1266,820.5 1279.2,814 1292.5,807.9 1304.9,804.5 1318.2,800.9 1331.3,797.4 1343.9,799.9 1357.2,800.3 1370.3,798.9 1382.7,801.9 1396,805.9 1409.3,809 1421.9,809.4" fill="none" stroke="#ffff00" stroke-width="1.2" stroke-linejoin="round"/>
<polyline points="8.9,811 21.5,819.1 34.4,834.6 47.7,838.2 60.3,833.2 73.4,834.6 86.5,831.6 99.1,830.2 112.3,814 125.6,797.8 138.1,789.4 151.3,795.8 163.9,818 177,823.1 190.3,820.1 202.9,831.2 216,841.3 229.1,845.9 241.7,853.4 254.8,854.4 268.1,859.4 280.7,853.4 293.9,859 307.2,860.5 319.7,850.4 332.9,840.3 346,832.2 358.6,807.9 371.9,795.8 384.3,786.7 397.6,790.2 410.7,786.7 423.3,812 436.4,828.1 449.7,836.2 462.2,847.3 475.5,847.3 488.6,851.4 501,856 514.3,856 527.6,860.9 540,845.3 553.3,826.1 566.4,814 579,806.3 592.1,803.5 604.7,805.5 618,809.4 631.2,810 643.8,806.3 656.9,804.3 670,788.2 682.6,782.7 695.9,779.7 709,777.7 721.6,780.7 734.7,785.7 748,775.6 760.4,771.6 773.7,773.6 786.9,767.6 799.5,767.1 812.6,771.6 825.2,790.8 838.3,799.9 851.6,810 864.2,830.2 877.3,839.9 890.4,844.3 903,837.8 916.1,842.7 929.5,838.2 942,813 955.2,793.8 968.5,785.7 980.9,793.8 994.2,803.9 1006.6,815.6 1019.9,818.4 1033,821.7 1045.6,824.5 1058.7,839.3 1072,843.3 1084.6,848.3 1097.7,854.4 1111.1,854.4 1123.5,856 1136.6,850.4 1149.9,847.3 1162.5,846.7 1175.6,853.4 1188.9,850.4 1201.3,856.8 1214.6,860.9 1227,841.9 1240.3,821.1 1253.5,809 1266,801.9 1279.2,798.3 1292.5,794.2 1304.9,799.3 1318.2,792.8 1331.3,788.2 1343.9,804.9 1357.2,801.9 1370.3,794.8 1382.7,807.9 1396,819.1 1409.3,813 1421.9,809.4" fill="none" stroke="#ffffff" stroke-width="1.1" stroke-linejoin="round"/>
<polyline points="8.9,789.8 21.5,820.1 34.4,854.4 47.7,852.8 60.3,836.2 73.4,841.3 86.5,831.2 99.1,828.1 112.3,791.8 125.6,759.5 138.1,757 151.3,779.7 163.9,838.2 177,842.7 190.3,830.6 202.9,850.4 216,867.5 229.1,870.6 241.7,880.3 254.8,873.6 268.1,875.6 280.7,858 293.9,869.5 307.2,871 319.7,844.3 332.9,823.1 346,805.9 358.6,757.5 371.9,748.4 384.3,741.7 397.6,764.5 410.7,765.9 423.3,832.2 436.4,862.5 449.7,872.6 462.2,883.7 475.5,872.6 488.6,872.6 501,877.6 514.3,869.1 527.6,876.2 540,842.3 553.3,796.8 566.4,774 579,769.2 592.1,775.6 604.7,789.8 618,803.5 631.2,806.5 643.8,798.9 656.9,797.4 670,763.9 682.6,758.5 695.9,758.5 709,762.5 721.6,775.6 734.7,785.7 748,763.9 760.4,758.5 773.7,767.6 786.9,755 799.5,759.5 812.6,771.6 825.2,814 838.3,827.1 851.6,841.3 864.2,875.6 877.3,886.3 890.4,879.6 903,854.4 916.1,860.9 929.5,842.3 942,783.7 955.2,750.4 968.5,743.3 980.9,777.7 994.2,803.9 1006.6,833.2 1019.9,835.2 1033,833.2 1045.6,836.6 1058.7,867.5 1072,870 1084.6,871.6 1097.7,877.6 1111.1,870.6 1123.5,867.5 1136.6,850.4 1149.9,843.9 1162.5,845.3 1175.6,858 1188.9,851.4 1201.3,864.5 1214.6,870.6 1227,823.1 1240.3,780.7 1253.5,767.6 1266,764.5 1279.2,769.2 1292.5,770.6 1304.9,790.2 1318.2,777.7 1331.3,773.6 1343.9,817 1357.2,800.9 1370.3,787.3 1382.7,823.1 1396,839.3 1409.3,823.1 1421.9,809" fill="none" stroke="#ff00ff" stroke-width="1.2" stroke-linejoin="round"/>
<polygon points="59.9,239.8 67.7,246.5 67.7,249 63.2,249 63.2,256.6 56.6,256.6 56.6,249 52.1,249 52.1,246.5" fill="#ff0000"/>
<polygon points="230,257.8 237.8,264.5 237.8,267 233.3,267 233.3,274.6 226.7,274.6 226.7,267 222.2,267 222.2,264.5" fill="#ff0000"/>
<polygon points="319.9,333.1 327.6,339.8 327.6,342.3 323.2,342.3 323.2,349.9 316.6,349.9 316.6,342.3 312.1,342.3 312.1,339.8" fill="#ff0000"/>
<polygon points="903.2,379.5 911,386.2 911,388.7 906.5,388.7 906.5,396.3 899.9,396.3 899.9,388.7 895.5,388.7 895.5,386.2" fill="#ff0000"/>
<polygon points="1137.3,424.2 1145,430.9 1145,433.4 1140.6,433.4 1140.6,441 1134,441 1134,433.4 1129.5,433.4 1129.5,430.9" fill="#ff0000"/>
<polygon points="1240.8,445.3 1248.5,452 1248.5,454.5 1244.1,454.5 1244.1,462.1 1237.5,462.1 1237.5,454.5 1233,454.5 1233,452" fill="#ff0000"/>
<polygon points="198.5,13.2 206.2,19.9 206.2,22.4 201.9,22.4 201.9,29.7 195.1,29.7 195.1,22.4 190.8,22.4 190.8,19.9" fill="#ff0000"/>
<path d="M719.6 298.2 H724.4 V305.7 H728.9 L722 313.6 L715.1 305.7 H719.6 Z" fill="none" stroke="#00e000" stroke-width="1.5" stroke-linejoin="miter"/>
<path d="M811.1 248.2 H815.9 V255.7 H820.4 L813.5 263.6 L806.6 255.7 H811.1 Z" fill="none" stroke="#00e000" stroke-width="1.5" stroke-linejoin="miter"/>
<path d="M1381.2 392.6 H1385.9 V400.1 H1390.4 L1383.6 408 L1376.8 400.1 H1381.2 Z" fill="none" stroke="#00e000" stroke-width="1.5" stroke-linejoin="miter"/>
<polygon points="788,156.4 795.8,149.7 795.8,147.2 791,147.2 791,139.6 785,139.6 785,147.2 780.2,147.2 780.2,149.7" fill="#00ff00"/>
<path d="M534.3 518 L546.6 518 L540.4 511.6 Z" fill="#ff1010"/>
<g stroke="#0000f0" stroke-width="1.75">
<path d="M2 244.2 H1468"/>
<path d="M2 329.3 H1468"/>
<path d="M2 386.4 H1468"/>
</g>
<g stroke="#0000f8" stroke-width="1.35" fill="none">
<path d="M2.5 83.3 L1004 518"/>
<path d="M528.7 36.5 L1467.4 445.3"/>
<path d="M2.7 357.7 L369.3 518"/>
</g>
<g stroke="#c8c8c8" stroke-width="1.2" fill="none">
<path d="M9 143.8 H26 M12.5 140.3 L9 143.8 L12.5 147.3"/>
<path d="M541 509.3 H556.5 M544.5 505.8 L541 509.3 L544.5 512.8"/>
</g>
<rect x="2" y="535.5" width="1474" height="1.9" fill="#b40000"/>
<rect x="2" y="710.9" width="1466" height="2.3" fill="#8c0000"/>
<rect x="2" y="888.1" width="1466" height="2.5" fill="#b00000"/>
<rect x="1467.2" y="8.5" width="2.1" height="704" fill="#a80000"/>
<rect x="1467.2" y="711.6" width="3.7" height="179.4" fill="#c00000"/>
<rect x="1469" y="711.6" width="7" height="3" fill="#c00000"/>
<rect x="1469" y="886.8" width="7" height="1.8" fill="#b00000"/>
<g stroke="#b00000" stroke-width="1.3">
<path d="M1469 51.8 H1476"/>
<path d="M1469 79.4 H1473"/>
<path d="M1469 107 H1476"/>
<path d="M1469 135 H1473"/>
<path d="M1469 163 H1476"/>
<path d="M1469 190 H1473"/>
<path d="M1469 217 H1476"/>
<path d="M1469 244.8 H1473"/>
<path d="M1469 272.5 H1476"/>
<path d="M1469 300.2 H1473"/>
<path d="M1469 328 H1476"/>
<path d="M1469 354.9 H1473"/>
<path d="M1469 381.9 H1476"/>
<path d="M1469 409.7 H1473"/>
<path d="M1469 437.5 H1476"/>
<path d="M1469 465.2 H1473"/>
<path d="M1469 493 H1476"/>
<path d="M1469 520.5 H1473"/>
<path d="M1469 586 H1476"/>
<path d="M1469 627.9 H1476"/>
<path d="M1469 668.3 H1476"/>
<path d="M1469 606.9 H1473"/>
<path d="M1469 648.1 H1473"/>
<path d="M1469 690 H1476"/>
<path d="M175.4 886.5 V889"/>
<path d="M236.4 886.5 V889"/>
<path d="M298.2 886.5 V889"/>
<path d="M359.6 886.5 V889"/>
<path d="M421.5 886.5 V889"/>
<path d="M479.7 886.5 V889"/>
<path d="M538.3 886.5 V889"/>
<path d="M596.8 886.5 V889"/>
<path d="M654.8 886.5 V889"/>
<path d="M727.2 886.5 V889"/>
<path d="M797.9 886.5 V889"/>
<path d="M869.6 886.5 V889"/>
<path d="M1004.6 886.5 V889"/>
<path d="M1070.9 886.5 V889"/>
<path d="M1134.9 886.5 V889"/>
<path d="M1199.6 886.5 V889"/>
</g>
<g stroke="#b00000" stroke-width="1.6" fill="none">
<path d="M1435.4 15.7 L1443 23.2 L1435.4 30.8 L1427.8 23.2 Z" stroke-width="1.4"/>
<rect x="1450.1" y="15.8" width="13.6" height="15"/>
<path d="M1459.4 15.8 V30.8"/>
</g>
<rect x="0" y="8" width="2.1" height="883" fill="#e8e8e8"/>
<path d="M2 447.4 L14.7 463.3 V508.7 L2 527 Z" fill="#3a3a3a" stroke="#7a7a7a" stroke-width="1.3"/>
<path d="M3.5 478.6 L11.2 485.9 L3.5 493.4 Z" fill="#e6a000"/>
<defs><linearGradient id="tg" x1="0" y1="0" x2="0" y2="1"><stop offset="0" stop-color="#d3d3d3"/><stop offset=".72" stop-color="#d3d3d3"/><stop offset=".85" stop-color="#909090"/><stop offset="1" stop-color="#000"/></linearGradient></defs>
<rect x="0" y="0" width="1476" height="9.3" fill="url(#tg)"/>
<rect x="581" y="0" width="57" height="6" fill="#e0e0e0"/>
<rect x="580.5" y="0" width="1.6" height="6" fill="#fafafa"/>
<rect x="638" y="0" width="1" height="6" fill="#9a9a9a"/>
<rect x="648.5" y="0" width="56.5" height="6" fill="#e0e0e0"/>
<rect x="648" y="0" width="1.6" height="6" fill="#fafafa"/>
<rect x="705" y="0" width="1" height="6" fill="#9a9a9a"/>
<g font-family="'Liberation Sans','Noto Sans CJK SC',sans-serif" stroke="#000" stroke-width="0.3">
<text x="2.70" y="29.8" font-size="17.9" textLength="179.17" lengthAdjust="spacingAndGlyphs" fill="#dadada">创业板指(日线.前复权)</text>
<text x="210.82" y="28.4" font-size="18.4" textLength="110.18" lengthAdjust="spacingAndGlyphs" fill="#ffffff">MA5: 1261.76</text>
<text x="329.11" y="28.4" font-size="18.4" textLength="120.72" lengthAdjust="spacingAndGlyphs" fill="#ffff00">MA10: 1260.93</text>
<text x="458.52" y="28.4" font-size="18.4" textLength="120.13" lengthAdjust="spacingAndGlyphs" fill="#ff00ff">MA20: 1255.55</text>
<text x="587.10" y="28.4" font-size="18.4" textLength="131.24" lengthAdjust="spacingAndGlyphs" fill="#00ff00">MA250: 1549.92</text>
<text x="2.50" y="555.2" font-size="18.4" textLength="77.78" lengthAdjust="spacingAndGlyphs" fill="#f2f2f2">VOLUME:</text>
<text x="84.60" y="555.2" font-size="18.4" textLength="108.33" lengthAdjust="spacingAndGlyphs" fill="#f2f2f2">51347192.00</text>
<text x="202.27" y="555.2" font-size="18.4" textLength="36.66" lengthAdjust="spacingAndGlyphs" fill="#ffffff">MA5:</text>
<text x="245.64" y="555.2" font-size="18.4" textLength="108.09" lengthAdjust="spacingAndGlyphs" fill="#ffffff">48467196.00</text>
<text x="362.45" y="555.2" font-size="18.4" textLength="49.36" lengthAdjust="spacingAndGlyphs" fill="#ffff00">MA10:</text>
<text x="416.20" y="555.2" font-size="18.4" textLength="108.64" lengthAdjust="spacingAndGlyphs" fill="#ffff00">51473188.00</text>
<text x="2.19" y="730.9" font-size="18.4" textLength="86.82" lengthAdjust="spacingAndGlyphs" fill="#c4c4c4">KDJ(9,3,3)</text>
<text x="96.75" y="730.9" font-size="18.4" textLength="64.43" lengthAdjust="spacingAndGlyphs" fill="#ffffff">K: 53.51</text>
<text x="171.43" y="730.9" font-size="18.4" textLength="66.54" lengthAdjust="spacingAndGlyphs" fill="#ffff00">D: 53.27</text>
<text x="247.77" y="730.9" font-size="18.4" textLength="64.20" lengthAdjust="spacingAndGlyphs" fill="#ff00ff">J: 53.99</text>
<text x="29.26" y="154.8" font-size="18.4" textLength="67.47" lengthAdjust="spacingAndGlyphs" fill="#d6d6d6">1519.72</text>
<text x="559.79" y="517" font-size="18.4" textLength="63.58" lengthAdjust="spacingAndGlyphs" fill="#d6d6d6">1184.91</text>
<text x="1066.57" y="366.2" font-size="18.4" textLength="148.57" lengthAdjust="spacingAndGlyphs" fill="#b4b4b4">1309.44 - 1307.90</text>
<text x="1469.5" y="706" font-size="14" fill="#e63232">&gt;</text>
</g>
</svg>
</body></html>
